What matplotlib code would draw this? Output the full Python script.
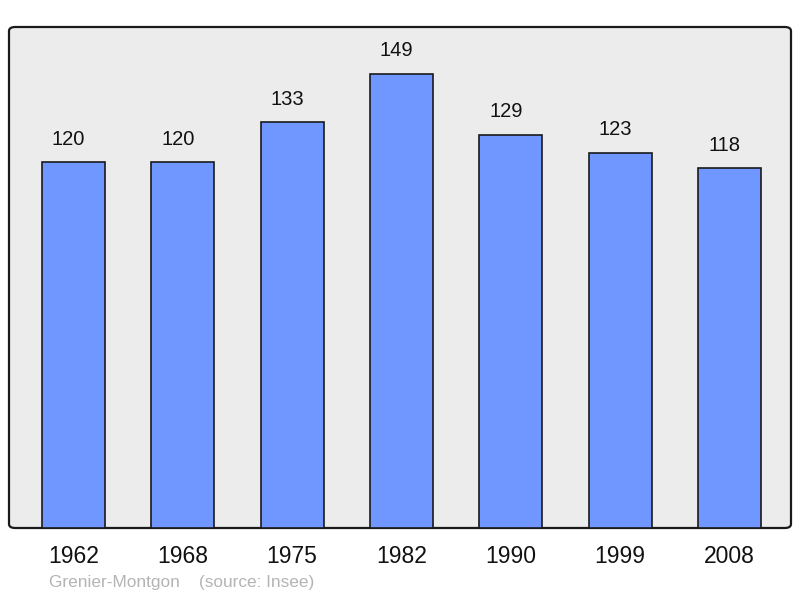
import matplotlib
matplotlib.use("Agg")
import matplotlib.pyplot as plt
from matplotlib.patches import FancyBboxPatch

years = ["1962", "1968", "1975", "1982", "1990", "1999", "2008"]
population = [120, 120, 133, 149, 129, 123, 118]
footer = "Grenier-Montgon    (source: Insee)"

COLOR_BG = "#ececec"
COLOR_BAR = "#7097ff"
COLOR_FOOT = "#b4b4b4"

plt.rcParams["font.family"] = ["Liberation Sans", "DejaVu Sans"]

fig = plt.figure(figsize=(8, 5.98), dpi=100)
ax = fig.add_axes([9 / 800, 70 / 598, 782 / 800, 501 / 598])
ax.set_facecolor("none")
for s in ax.spines.values():
    s.set_visible(False)

# rounded frame behind the bars
frame = FancyBboxPatch((0, 0), 1, 1, boxstyle="round,pad=0,rounding_size=0.008",
                       transform=ax.transAxes, facecolor=COLOR_BG, edgecolor="#1a1a1a",
                       linewidth=1.6, zorder=0, clip_on=False)
ax.add_patch(frame)

x = range(len(years))
ax.bar(x, population, width=0.578, color=COLOR_BAR, edgecolor="#1a1a1a",
       linewidth=1.2, zorder=2)
for i, v in zip(x, population):
    ax.annotate(str(v), (i, v), xytext=(-5, 23), textcoords="offset pixels",
                ha="center", va="center", fontsize=14.5, color="#111111")

ax.set_xlim(-0.59, 6.5625)
ax.set_ylim(0, 164.3)
ax.set_yticks([])
ax.set_xticks(list(x))
ax.set_xticklabels(years, fontsize=16.5, color="#111111")
ax.tick_params(axis="x", length=0, pad=12)

fig.text(49 / 800, 1 - 583 / 598, footer, ha="left", va="center",
         fontsize=12.4, color=COLOR_FOOT)

fig.savefig("out.png", facecolor="white")
